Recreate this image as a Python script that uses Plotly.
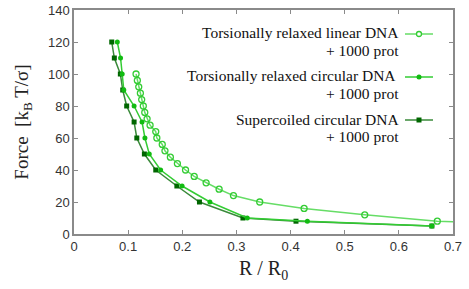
import plotly.graph_objects as go

# Torsionally relaxed linear DNA + 1000 prot
lin_R = [0.1146, 0.117, 0.1196, 0.1226, 0.125, 0.128, 0.1307, 0.135, 0.1405, 0.151, 0.153,
         0.163, 0.168, 0.178, 0.191, 0.206, 0.222, 0.244, 0.268, 0.2945, 0.343, 0.425, 0.537, 0.671, 0.72]
lin_F = [100, 96, 92, 88, 84, 80, 76, 72, 68, 64, 60, 56, 52, 48, 44, 40, 36, 32, 28, 24, 20, 16, 12, 8, 7.3]

# Torsionally relaxed circular DNA + 1000 prot
circ_R = [0.080, 0.086, 0.089, 0.092, 0.111, 0.1257, 0.131, 0.139, 0.160, 0.1996, 0.251, 0.320, 0.431, 0.661]
circ_F = [120, 110, 100, 90, 80, 70, 60, 50, 40, 30, 20, 10, 8, 5]

# Supercoiled circular DNA + 1000 prot
sc_R = [0.0697, 0.0745, 0.0856, 0.090, 0.0973, 0.111, 0.116, 0.130, 0.151, 0.190, 0.2317, 0.312, 0.410, 0.661]
sc_F = [120, 110, 100, 90, 80, 70, 60, 50, 40, 30, 20, 10, 8, 5]

x_ticks = [0, 0.1, 0.2, 0.3, 0.4, 0.5, 0.6, 0.7]
x_tick_text = ["0", "0.1", "0.2", "0.3", "0.4", "0.5", "0.6", "0.7"]
y_ticks = [0, 20, 40, 60, 80, 100, 120, 140]

legend_line1 = ["Torsionally relaxed linear DNA",
                "Torsionally relaxed circular DNA ",
                "Supercoiled circular DNA"]
legend_line2 = ["+ 1000 prot", "+ 1000 prot", "+ 1000 prot"]

c_lin_line, c_lin_mk = "#66dd66", "#33cc33"
c_circ_line, c_circ_mk = "#33cc33", "#11bb11"
c_sc_line, c_sc_mk = "#3a8a3a", "#006600"

L, R, T, B = 74, 16, 10, 55
W, H = 469, 289
PW, PH = W - L - R, H - T - B

fig = go.Figure()
fig.add_trace(go.Scatter(x=sc_R, y=sc_F, mode="lines+markers",
                         line=dict(color=c_sc_line, width=1.5),
                         marker=dict(symbol="square", size=5, color=c_sc_mk)))
fig.add_trace(go.Scatter(x=circ_R, y=circ_F, mode="lines+markers",
                         line=dict(color=c_circ_line, width=1.5),
                         marker=dict(symbol="circle", size=5, color=c_circ_mk)))
fig.add_trace(go.Scatter(x=lin_R, y=lin_F, mode="lines+markers",
                         line=dict(color=c_lin_line, width=1.5),
                         marker=dict(symbol="circle-open", size=6, color=c_lin_mk,
                                     line=dict(width=1.3))))

axis_common = dict(showline=True, linecolor="#8a8a8a", linewidth=1.5, mirror="ticks",
                   ticks="inside", ticklen=4, tickcolor="#8a8a8a", tickwidth=1,
                   showgrid=False, zeroline=False, automargin=False,
                   tickfont=dict(family="Liberation Sans, sans-serif", size=13, color="#333333"))

fig.update_xaxes(range=[0, 0.7], tickvals=x_ticks, ticktext=x_tick_text,
                 title=dict(text="R / R<sub>0</sub>", standoff=8,
                            font=dict(family="Liberation Serif, serif", size=20, color="#222222")),
                 **axis_common)
fig.update_yaxes(range=[0, 140], tickvals=y_ticks,
                 title=dict(text="Force  [k<sub>B</sub> T/σ]", standoff=14,
                            font=dict(family="Liberation Serif, serif", size=19, color="#222222")),
                 **axis_common)

# Legend (text right-aligned, sample on right)
leg_y = [34, 77, 120]
leg_cols = [(c_lin_line, c_lin_mk, "open"), (c_circ_line, c_circ_mk, "filled"), (c_sc_line, c_sc_mk, "square")]
leg_font = dict(family="Liberation Serif, serif", size=15.5, color="#111111")
for l1, l2, yy, (lc, mc, kind) in zip(legend_line1, legend_line2, leg_y, leg_cols):
    fig.add_annotation(xref="paper", yref="paper", x=(401 - L) / PW,
                       y=(H - B - (yy - 1)) / PH, xanchor="right", yanchor="middle",
                       text=l1, showarrow=False, align="right", font=leg_font)
    fig.add_annotation(xref="paper", yref="paper", x=(401 - L) / PW,
                       y=(H - B - (yy + 16)) / PH, xanchor="right", yanchor="middle",
                       text=l2, showarrow=False, align="right", font=leg_font)
    yp = (H - B - yy) / PH
    x0 = (405 - L) / PW
    x1 = (433 - L) / PW
    fig.add_shape(type="line", xref="paper", yref="paper", x0=x0, x1=x1, y0=yp, y1=yp,
                  line=dict(color=lc, width=1.5))
    xc = (419 - L) / PW
    dx = 2.5 / PW
    dy = 2.5 / PH
    if kind == "square":
        fig.add_shape(type="rect", xref="paper", yref="paper", x0=xc - dx, x1=xc + dx,
                      y0=yp - dy, y1=yp + dy, line=dict(color=mc, width=0), fillcolor=mc)
    elif kind == "filled":
        fig.add_shape(type="circle", xref="paper", yref="paper", x0=xc - dx, x1=xc + dx,
                      y0=yp - dy, y1=yp + dy, line=dict(color=mc, width=0), fillcolor=mc)
    else:
        fig.add_shape(type="circle", xref="paper", yref="paper", x0=xc - dx, x1=xc + dx,
                      y0=yp - dy, y1=yp + dy, line=dict(color=mc, width=1.3), fillcolor="white")

fig.update_layout(width=W, height=H, showlegend=False,
                  margin=dict(l=L, r=R, t=T, b=B),
                  plot_bgcolor="white", paper_bgcolor="white")

fig.write_html("out.html", config={"displayModeBar": False},
               post_script="document.body.style.margin='0';document.body.style.overflow='hidden';")
